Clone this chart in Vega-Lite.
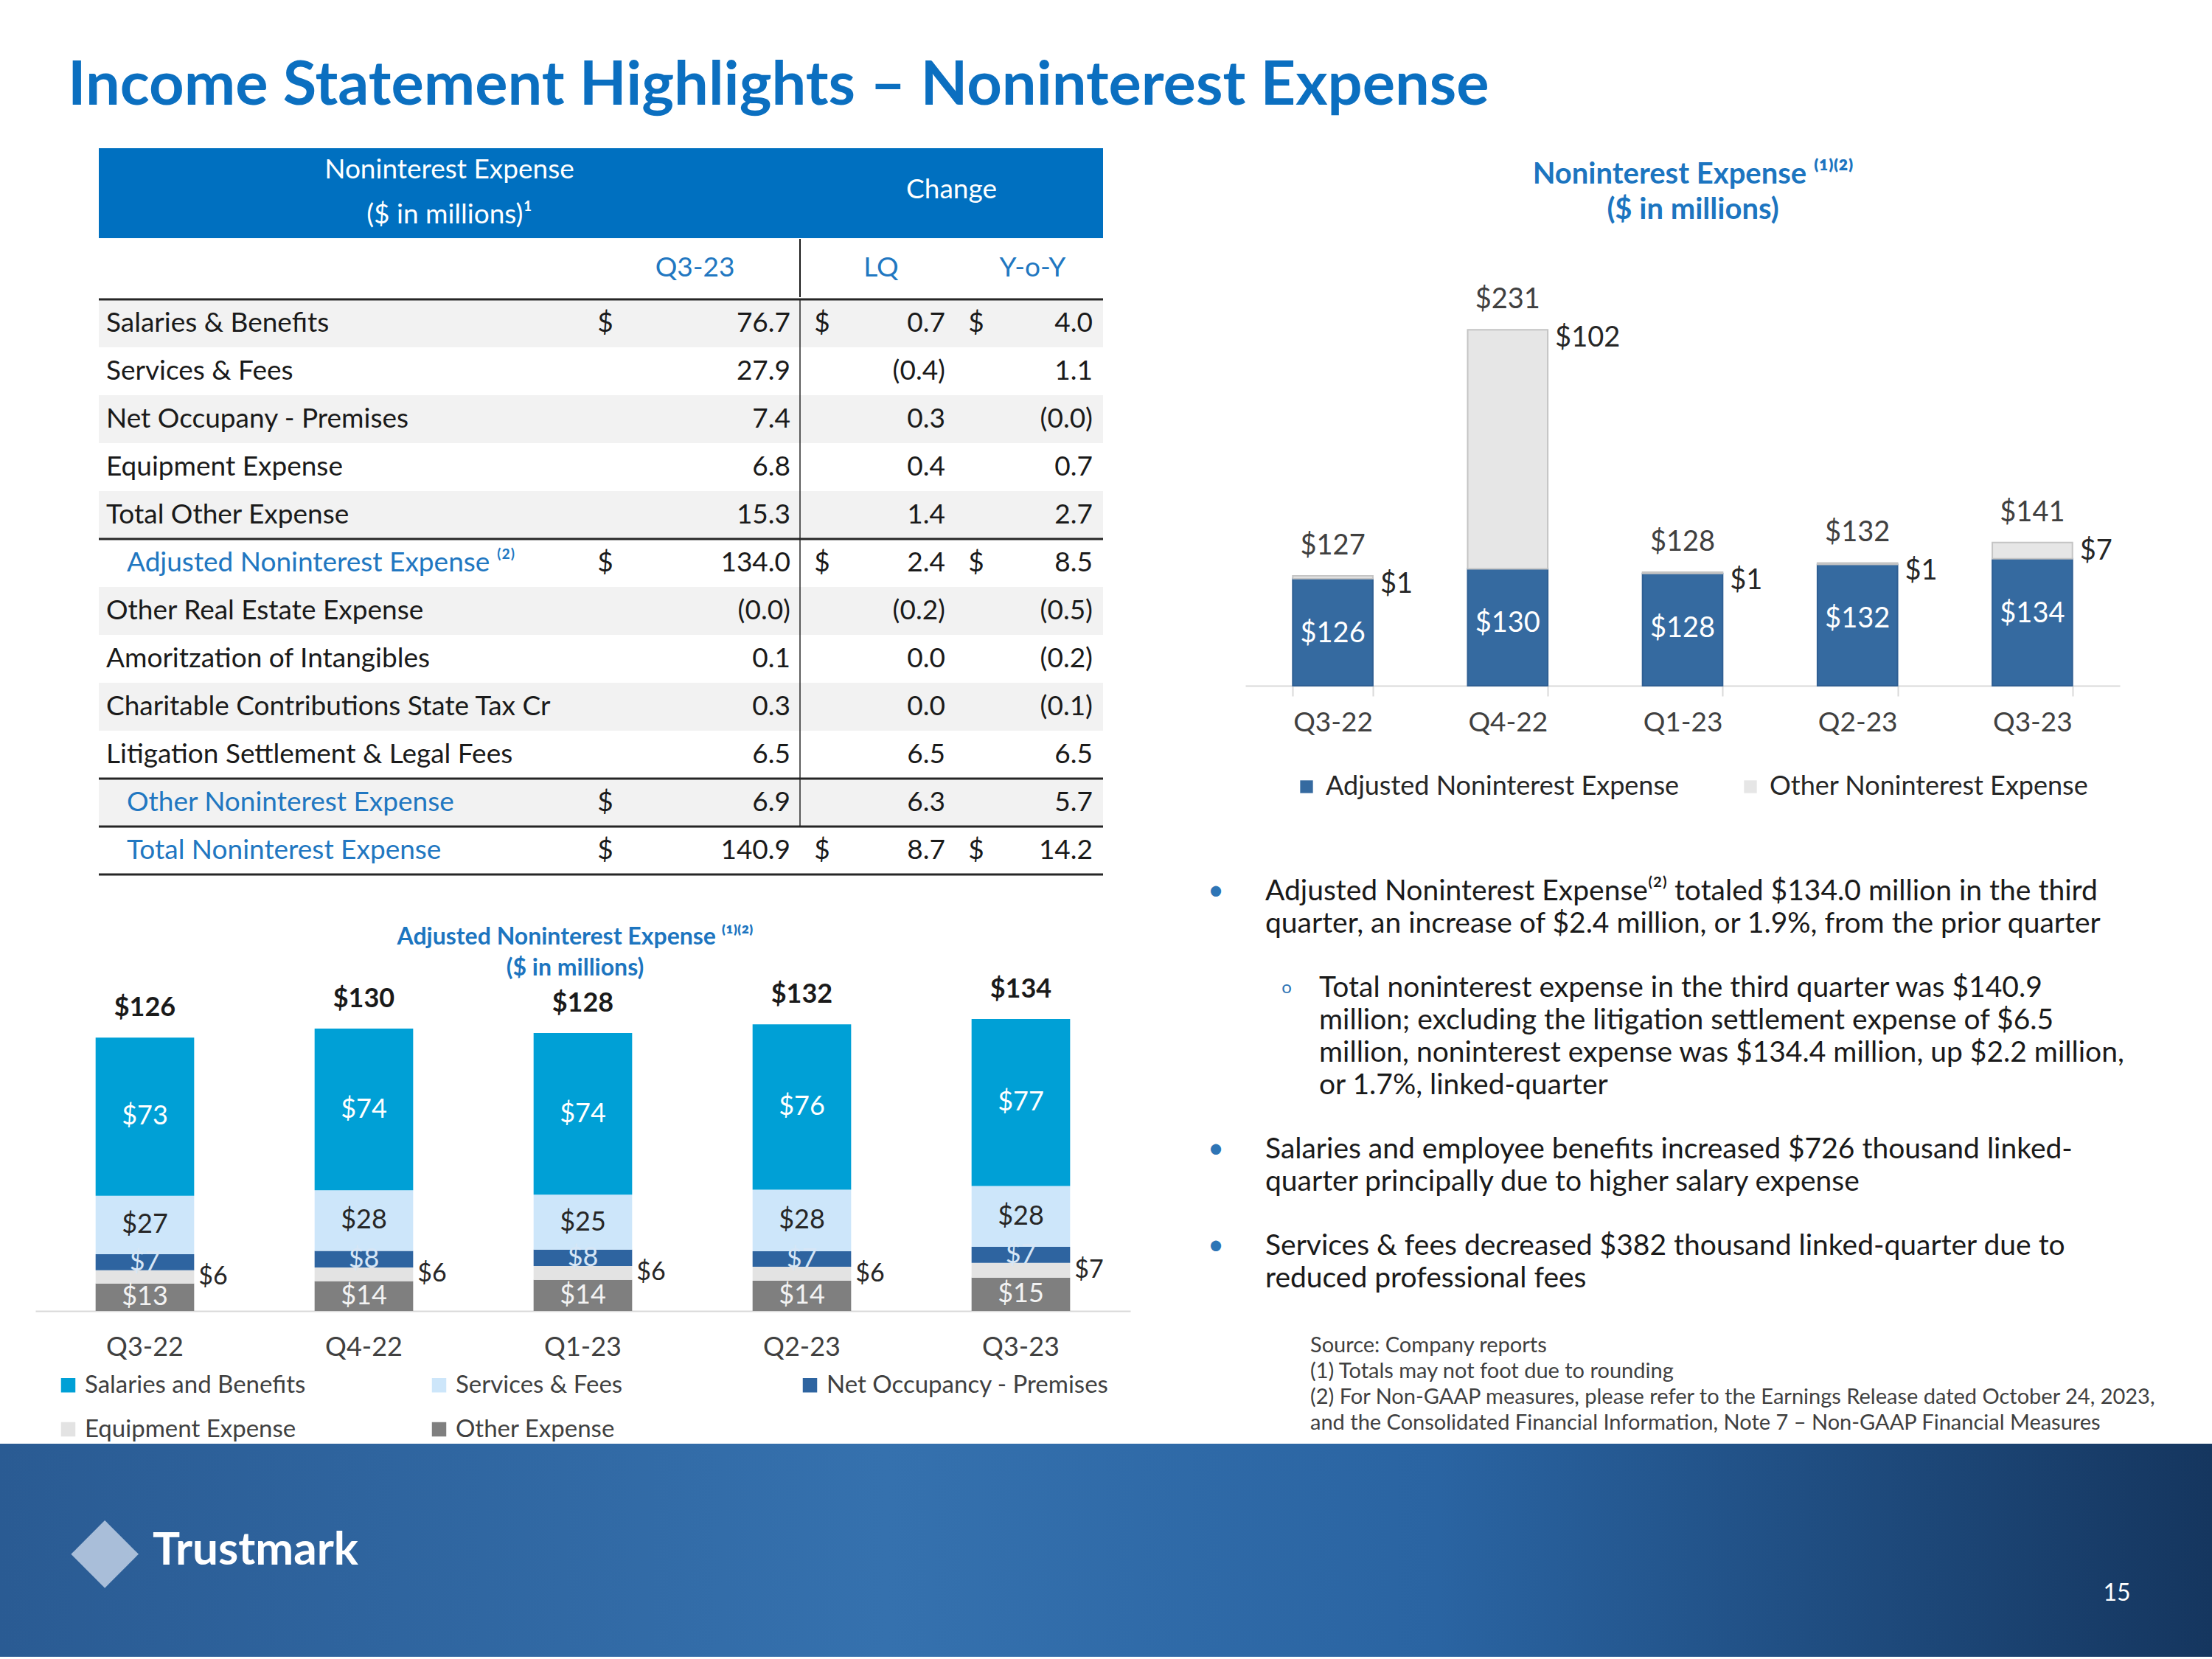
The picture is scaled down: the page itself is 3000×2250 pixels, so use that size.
{
"$schema":"https://vega.github.io/schema/vega-lite/v6.json",
"background":"#ffffff",
"padding":{"left":0,"right":0,"top":76,"bottom":0},
"title":{"text":"Income Statement Highlights – Noninterest Expense","anchor":"start","dx":92,"offset":42,"fontSize":83,"fontWeight":"bold","color":"#0b6fc0","font":"Lato"},
"config":{"font":"Lato","view":{"stroke":null},"concat":{"spacing":0},"title":{"font":"Lato","subtitleFont":"Lato"}},
"resolve":{"scale":{"color":"independent"},"legend":{"color":"independent"}},
"datasets":{
 "tableHead":[{"part":"left","label":"Noninterest Expense\n($ in millions)¹"},{"part":"right","label":"Change"}],
 "tableCols":[{"col":"cur","label":"Q3-23"},{"col":"lq","label":"LQ"},{"col":"yoy","label":"Y-o-Y"}],
 "table":[
  {"n":1,"item":"Salaries & Benefits","kind":"item","cur":"76.7","lq":"0.7","yoy":"4.0","sym_cur":"$","sym_chg":"$"},
  {"n":2,"item":"Services & Fees","kind":"item","cur":"27.9","lq":"(0.4)","yoy":"1.1"},
  {"n":3,"item":"Net Occupany - Premises","kind":"item","cur":"7.4","lq":"0.3","yoy":"(0.0)"},
  {"n":4,"item":"Equipment Expense","kind":"item","cur":"6.8","lq":"0.4","yoy":"0.7"},
  {"n":5,"item":"Total Other Expense","kind":"item","cur":"15.3","lq":"1.4","yoy":"2.7"},
  {"n":6,"item":"Adjusted Noninterest Expense ⁽²⁾","kind":"subtotal","cur":"134.0","lq":"2.4","yoy":"8.5","sym_cur":"$","sym_chg":"$"},
  {"n":7,"item":"Other Real Estate Expense","kind":"item","cur":"(0.0)","lq":"(0.2)","yoy":"(0.5)"},
  {"n":8,"item":"Amoritzation of Intangibles","kind":"item","cur":"0.1","lq":"0.0","yoy":"(0.2)"},
  {"n":9,"item":"Charitable Contributions State Tax Cr","kind":"item","cur":"0.3","lq":"0.0","yoy":"(0.1)"},
  {"n":10,"item":"Litigation Settlement & Legal Fees","kind":"item","cur":"6.5","lq":"6.5","yoy":"6.5"},
  {"n":11,"item":"Other Noninterest Expense","kind":"subtotal","cur":"6.9","lq":"6.3","yoy":"5.7","sym_cur":"$"},
  {"n":12,"item":"Total Noninterest Expense","kind":"total","cur":"140.9","lq":"8.7","yoy":"14.2","sym_cur":"$","sym_chg":"$"}
 ],
 "adjParts":[
  {"q":"Q3-22","cat":"Other Expense","k":1,"v":12.6},
  {"q":"Q3-22","cat":"Equipment Expense","k":2,"v":6.1},
  {"q":"Q3-22","cat":"Net Occupancy - Premises","k":3,"v":7.4},
  {"q":"Q3-22","cat":"Services & Fees","k":4,"v":26.8},
  {"q":"Q3-22","cat":"Salaries and Benefits","k":5,"v":72.7},
  {"q":"Q4-22","cat":"Other Expense","k":1,"v":13.7},
  {"q":"Q4-22","cat":"Equipment Expense","k":2,"v":6.3},
  {"q":"Q4-22","cat":"Net Occupancy - Premises","k":3,"v":7.6},
  {"q":"Q4-22","cat":"Services & Fees","k":4,"v":27.9},
  {"q":"Q4-22","cat":"Salaries and Benefits","k":5,"v":74.2},
  {"q":"Q1-23","cat":"Other Expense","k":1,"v":14.3},
  {"q":"Q1-23","cat":"Equipment Expense","k":2,"v":6.4},
  {"q":"Q1-23","cat":"Net Occupancy - Premises","k":3,"v":7.5},
  {"q":"Q1-23","cat":"Services & Fees","k":4,"v":25.2},
  {"q":"Q1-23","cat":"Salaries and Benefits","k":5,"v":74.3},
  {"q":"Q2-23","cat":"Other Expense","k":1,"v":13.9},
  {"q":"Q2-23","cat":"Equipment Expense","k":2,"v":6.4},
  {"q":"Q2-23","cat":"Net Occupancy - Premises","k":3,"v":7.1},
  {"q":"Q2-23","cat":"Services & Fees","k":4,"v":28.3},
  {"q":"Q2-23","cat":"Salaries and Benefits","k":5,"v":76.0},
  {"q":"Q3-23","cat":"Other Expense","k":1,"v":15.3},
  {"q":"Q3-23","cat":"Equipment Expense","k":2,"v":6.8},
  {"q":"Q3-23","cat":"Net Occupancy - Premises","k":3,"v":7.4},
  {"q":"Q3-23","cat":"Services & Fees","k":4,"v":27.9},
  {"q":"Q3-23","cat":"Salaries and Benefits","k":5,"v":76.7}
 ],
 "totExp":[
  {"q":"Q3-22","cat":"Adjusted Noninterest Expense","k":1,"v":125.5},
  {"q":"Q3-22","cat":"Other Noninterest Expense","k":2,"v":1.2},
  {"q":"Q4-22","cat":"Adjusted Noninterest Expense","k":1,"v":129.7},
  {"q":"Q4-22","cat":"Other Noninterest Expense","k":2,"v":101.6},
  {"q":"Q1-23","cat":"Adjusted Noninterest Expense","k":1,"v":127.7},
  {"q":"Q1-23","cat":"Other Noninterest Expense","k":2,"v":0.6},
  {"q":"Q2-23","cat":"Adjusted Noninterest Expense","k":1,"v":131.6},
  {"q":"Q2-23","cat":"Other Noninterest Expense","k":2,"v":0.6},
  {"q":"Q3-23","cat":"Adjusted Noninterest Expense","k":1,"v":134.0},
  {"q":"Q3-23","cat":"Other Noninterest Expense","k":2,"v":6.9}
 ],
 "notes":[
  {"slot":"a1","level":0,"glyph":"•","line":"Adjusted Noninterest Expense⁽²⁾ totaled $134.0 million in the third"},
  {"slot":"a2","level":0,"glyph":"","line":"quarter, an increase of $2.4 million, or 1.9%, from the prior quarter"},
  {"slot":"b1","level":1,"glyph":"o","line":"Total noninterest expense in the third quarter was $140.9"},
  {"slot":"b2","level":1,"glyph":"","line":"million; excluding the litigation settlement expense of $6.5"},
  {"slot":"b3","level":1,"glyph":"","line":"million, noninterest expense was $134.4 million, up $2.2 million,"},
  {"slot":"b4","level":1,"glyph":"","line":"or 1.7%, linked-quarter"},
  {"slot":"c1","level":0,"glyph":"•","line":"Salaries and employee benefits increased $726 thousand  linked-"},
  {"slot":"c2","level":0,"glyph":"","line":"quarter principally due to higher salary expense"},
  {"slot":"d1","level":0,"glyph":"•","line":"Services & fees decreased $382 thousand linked-quarter due to"},
  {"slot":"d2","level":0,"glyph":"","line":"reduced professional fees"}
 ],
 "footnotes":[
  {"i":1,"line":"Source: Company reports"},
  {"i":2,"line":"(1) Totals may not foot due to rounding"},
  {"i":3,"line":"(2) For Non-GAAP measures, please refer to the Earnings Release dated October 24, 2023,"},
  {"i":4,"line":"and the Consolidated Financial Information, Note 7 – Non-GAAP Financial Measures"}
 ],
 "footer":[{"logo":"◆","brand":"Trustmark","page":"15"}]
},
"vconcat":[
 {"hconcat":[
  {"vconcat":[
   {"vconcat":[
    {"hconcat":[
     {"width":134,"height":30,"data":{"values":[{"t":""}]},"mark":{"type":"text","fontSize":1},"encoding":{"text":{"field":"t"}}},
     {"width":951,"height":122,"view":{"fill":"#0070c0","stroke":null},"data":{"name":"tableHead"},"transform":[{"filter":"datum.part == 'left'"}],"mark":{"type":"text","color":"#ffffff","fontSize":37,"lineBreak":"\n","lineHeight":61,"align":"center","baseline":"middle","dy":-31},"encoding":{"text":{"field":"label"}}},
     {"width":411,"height":122,"view":{"fill":"#0070c0","stroke":null},"data":{"name":"tableHead"},"transform":[{"filter":"datum.part == 'right'"}],"mark":{"type":"text","color":"#ffffff","fontSize":37,"align":"center","baseline":"middle","dy":-4},"encoding":{"text":{"field":"label"}}}
    ],"spacing":0,"bounds":"flush"},
    {"hconcat":[
     {"width":800,"height":30,"data":{"values":[{"t":""}]},"mark":{"type":"text","fontSize":1},"encoding":{"text":{"field":"t"}}},
     {"width":285,"height":79,"data":{"name":"tableCols"},"transform":[{"filter":"datum.col == 'cur'"}],"mark":{"type":"text","fontSize":37,"color":"#2177c1","align":"center","baseline":"middle"},"encoding":{"text":{"field":"label"}}},
     {"width":220,"height":79,"data":{"name":"tableCols"},"layer":[
      {"transform":[{"filter":"datum.col == 'lq'"}],"mark":{"type":"text","fontSize":37,"color":"#2177c1","align":"center","baseline":"middle"},"encoding":{"text":{"field":"label"}}},
      {"transform":[{"filter":"datum.col == 'lq'"}],"mark":{"type":"rule","color":"#1a1a1a","strokeWidth":2},"encoding":{"x":{"datum":0,"type":"quantitative","scale":{"domain":[0,1]},"axis":null}}}
     ]},
     {"width":191,"height":79,"data":{"name":"tableCols"},"transform":[{"filter":"datum.col == 'yoy'"}],"mark":{"type":"text","fontSize":37,"color":"#2177c1","align":"center","baseline":"middle"},"encoding":{"text":{"field":"label"}}}
    ],"spacing":0,"bounds":"flush"},
    {"hconcat":[
     {"width":134,"height":30,"data":{"values":[{"t":""}]},"mark":{"type":"text","fontSize":1},"encoding":{"text":{"field":"t"}}},
     {"width":666,"height":780,"data":{"name":"table"},"layer":[
      {"transform":[{"filter":"datum.n % 2 == 1"}],"mark":{"type":"rect","color":"#f2f2f2"},"encoding":{"x":{"datum":0,"type":"quantitative","scale":{"domain":[0,1]},"axis":null},"x2":{"datum":1},"y":{"field":"n","type":"ordinal","scale":{"type":"band","domain":[1,2,3,4,5,6,7,8,9,10,11,12],"paddingInner":0,"paddingOuter":0},"axis":null}}},
      {"transform":[{"filter":"datum.kind == 'item'"}],"mark":{"type":"text","align":"left","baseline":"middle","dx":10,"fontSize":37,"color":"#1a1a1a"},"encoding":{"x":{"datum":0,"type":"quantitative","scale":{"domain":[0,1]},"axis":null},"y":{"field":"n","type":"ordinal","scale":{"type":"band","domain":[1,2,3,4,5,6,7,8,9,10,11,12],"paddingInner":0,"paddingOuter":0},"axis":null},"text":{"field":"item"}}},
      {"transform":[{"filter":"datum.kind != 'item'"}],"mark":{"type":"text","align":"left","baseline":"middle","dx":38,"fontSize":37,"color":"#2177c1"},"encoding":{"x":{"datum":0,"type":"quantitative","scale":{"domain":[0,1]},"axis":null},"y":{"field":"n","type":"ordinal","scale":{"type":"band","domain":[1,2,3,4,5,6,7,8,9,10,11,12],"paddingInner":0,"paddingOuter":0},"axis":null},"text":{"field":"item"}}},
      {"transform":[{"filter":"datum.n == 1 || datum.kind != 'item'"}],"mark":{"type":"rule","color":"#262626","strokeWidth":3},"encoding":{"x":{"datum":0,"type":"quantitative","scale":{"domain":[0,1]},"axis":null},"x2":{"datum":1},"y":{"field":"n","type":"ordinal","bandPosition":0,"scale":{"type":"band","domain":[1,2,3,4,5,6,7,8,9,10,11,12],"paddingInner":0,"paddingOuter":0},"axis":null}}},
      {"transform":[{"filter":"datum.kind == 'total'"}],"mark":{"type":"rule","color":"#262626","strokeWidth":3},"encoding":{"x":{"datum":0,"type":"quantitative","scale":{"domain":[0,1]},"axis":null},"x2":{"datum":1},"y":{"field":"n","type":"ordinal","bandPosition":1,"scale":{"type":"band","domain":[1,2,3,4,5,6,7,8,9,10,11,12],"paddingInner":0,"paddingOuter":0},"axis":null}}}
     ]},
     {"width":285,"height":780,"data":{"name":"table"},"layer":[
      {"transform":[{"filter":"datum.n % 2 == 1"}],"mark":{"type":"rect","color":"#f2f2f2"},"encoding":{"x":{"datum":0,"type":"quantitative","scale":{"domain":[0,1]},"axis":null},"x2":{"datum":1},"y":{"field":"n","type":"ordinal","scale":{"type":"band","domain":[1,2,3,4,5,6,7,8,9,10,11,12],"paddingInner":0,"paddingOuter":0},"axis":null}}},
      {"transform":[{"filter":"datum.sym_cur == '$'"}],"mark":{"type":"text","align":"center","baseline":"middle","dx":21,"fontSize":37,"color":"#1a1a1a"},"encoding":{"x":{"datum":0,"type":"quantitative","scale":{"domain":[0,1]},"axis":null},"y":{"field":"n","type":"ordinal","scale":{"type":"band","domain":[1,2,3,4,5,6,7,8,9,10,11,12],"paddingInner":0,"paddingOuter":0},"axis":null},"text":{"field":"sym_cur"}}},
      {"mark":{"type":"text","align":"right","baseline":"middle","dx":-13,"fontSize":37,"color":"#1a1a1a"},"encoding":{"x":{"datum":1,"type":"quantitative","scale":{"domain":[0,1]},"axis":null},"y":{"field":"n","type":"ordinal","scale":{"type":"band","domain":[1,2,3,4,5,6,7,8,9,10,11,12],"paddingInner":0,"paddingOuter":0},"axis":null},"text":{"field":"cur"}}},
      {"transform":[{"filter":"datum.n == 1 || datum.kind != 'item'"}],"mark":{"type":"rule","color":"#262626","strokeWidth":3},"encoding":{"x":{"datum":0,"type":"quantitative","scale":{"domain":[0,1]},"axis":null},"x2":{"datum":1},"y":{"field":"n","type":"ordinal","bandPosition":0,"scale":{"type":"band","domain":[1,2,3,4,5,6,7,8,9,10,11,12],"paddingInner":0,"paddingOuter":0},"axis":null}}},
      {"transform":[{"filter":"datum.kind == 'total'"}],"mark":{"type":"rule","color":"#262626","strokeWidth":3},"encoding":{"x":{"datum":0,"type":"quantitative","scale":{"domain":[0,1]},"axis":null},"x2":{"datum":1},"y":{"field":"n","type":"ordinal","bandPosition":1,"scale":{"type":"band","domain":[1,2,3,4,5,6,7,8,9,10,11,12],"paddingInner":0,"paddingOuter":0},"axis":null}}}
     ]},
     {"width":220,"height":780,"data":{"name":"table"},"layer":[
      {"transform":[{"filter":"datum.n % 2 == 1"}],"mark":{"type":"rect","color":"#f2f2f2"},"encoding":{"x":{"datum":0,"type":"quantitative","scale":{"domain":[0,1]},"axis":null},"x2":{"datum":1},"y":{"field":"n","type":"ordinal","scale":{"type":"band","domain":[1,2,3,4,5,6,7,8,9,10,11,12],"paddingInner":0,"paddingOuter":0},"axis":null}}},
      {"transform":[{"filter":"datum.kind != 'total'"}],"mark":{"type":"tick","orient":"vertical","size":65,"thickness":2,"color":"#1a1a1a"},"encoding":{"x":{"datum":0,"type":"quantitative","scale":{"domain":[0,1]},"axis":null},"y":{"field":"n","type":"ordinal","scale":{"type":"band","domain":[1,2,3,4,5,6,7,8,9,10,11,12],"paddingInner":0,"paddingOuter":0},"axis":null}}},
      {"transform":[{"filter":"datum.sym_chg == '$'"}],"mark":{"type":"text","align":"center","baseline":"middle","dx":30,"fontSize":37,"color":"#1a1a1a"},"encoding":{"x":{"datum":0,"type":"quantitative","scale":{"domain":[0,1]},"axis":null},"y":{"field":"n","type":"ordinal","scale":{"type":"band","domain":[1,2,3,4,5,6,7,8,9,10,11,12],"paddingInner":0,"paddingOuter":0},"axis":null},"text":{"field":"sym_chg"}}},
      {"mark":{"type":"text","align":"right","baseline":"middle","dx":-23,"fontSize":37,"color":"#1a1a1a"},"encoding":{"x":{"datum":1,"type":"quantitative","scale":{"domain":[0,1]},"axis":null},"y":{"field":"n","type":"ordinal","scale":{"type":"band","domain":[1,2,3,4,5,6,7,8,9,10,11,12],"paddingInner":0,"paddingOuter":0},"axis":null},"text":{"field":"lq"}}},
      {"transform":[{"filter":"datum.n == 1 || datum.kind != 'item'"}],"mark":{"type":"rule","color":"#262626","strokeWidth":3},"encoding":{"x":{"datum":0,"type":"quantitative","scale":{"domain":[0,1]},"axis":null},"x2":{"datum":1},"y":{"field":"n","type":"ordinal","bandPosition":0,"scale":{"type":"band","domain":[1,2,3,4,5,6,7,8,9,10,11,12],"paddingInner":0,"paddingOuter":0},"axis":null}}},
      {"transform":[{"filter":"datum.kind == 'total'"}],"mark":{"type":"rule","color":"#262626","strokeWidth":3},"encoding":{"x":{"datum":0,"type":"quantitative","scale":{"domain":[0,1]},"axis":null},"x2":{"datum":1},"y":{"field":"n","type":"ordinal","bandPosition":1,"scale":{"type":"band","domain":[1,2,3,4,5,6,7,8,9,10,11,12],"paddingInner":0,"paddingOuter":0},"axis":null}}}
     ]},
     {"width":191,"height":780,"data":{"name":"table"},"layer":[
      {"transform":[{"filter":"datum.n % 2 == 1"}],"mark":{"type":"rect","color":"#f2f2f2"},"encoding":{"x":{"datum":0,"type":"quantitative","scale":{"domain":[0,1]},"axis":null},"x2":{"datum":1},"y":{"field":"n","type":"ordinal","scale":{"type":"band","domain":[1,2,3,4,5,6,7,8,9,10,11,12],"paddingInner":0,"paddingOuter":0},"axis":null}}},
      {"transform":[{"filter":"datum.sym_chg == '$'"}],"mark":{"type":"text","align":"center","baseline":"middle","dx":19,"fontSize":37,"color":"#1a1a1a"},"encoding":{"x":{"datum":0,"type":"quantitative","scale":{"domain":[0,1]},"axis":null},"y":{"field":"n","type":"ordinal","scale":{"type":"band","domain":[1,2,3,4,5,6,7,8,9,10,11,12],"paddingInner":0,"paddingOuter":0},"axis":null},"text":{"field":"sym_chg"}}},
      {"mark":{"type":"text","align":"right","baseline":"middle","dx":-14,"fontSize":37,"color":"#1a1a1a"},"encoding":{"x":{"datum":1,"type":"quantitative","scale":{"domain":[0,1]},"axis":null},"y":{"field":"n","type":"ordinal","scale":{"type":"band","domain":[1,2,3,4,5,6,7,8,9,10,11,12],"paddingInner":0,"paddingOuter":0},"axis":null},"text":{"field":"yoy"}}},
      {"transform":[{"filter":"datum.n == 1 || datum.kind != 'item'"}],"mark":{"type":"rule","color":"#262626","strokeWidth":3},"encoding":{"x":{"datum":0,"type":"quantitative","scale":{"domain":[0,1]},"axis":null},"x2":{"datum":1},"y":{"field":"n","type":"ordinal","bandPosition":0,"scale":{"type":"band","domain":[1,2,3,4,5,6,7,8,9,10,11,12],"paddingInner":0,"paddingOuter":0},"axis":null}}},
      {"transform":[{"filter":"datum.kind == 'total'"}],"mark":{"type":"rule","color":"#262626","strokeWidth":3},"encoding":{"x":{"datum":0,"type":"quantitative","scale":{"domain":[0,1]},"axis":null},"x2":{"datum":1},"y":{"field":"n","type":"ordinal","bandPosition":1,"scale":{"type":"band","domain":[1,2,3,4,5,6,7,8,9,10,11,12],"paddingInner":0,"paddingOuter":0},"axis":null}}}
     ]}
    ],"spacing":0,"bounds":"flush"}
   ],"spacing":0},
   {"width":1628,"height":473,"data":{"name":"adjParts"},
    "title":{"text":"Adjusted Noninterest Expense ⁽¹⁾⁽²⁾","subtitle":"($ in millions)","anchor":"middle","frame":"group","offset":-25,"dx":-34,"fontSize":32,"subtitleFontSize":32,"fontWeight":"bold","subtitleFontWeight":"bold","color":"#1c75c0","subtitleColor":"#1c75c0","subtitlePadding":10},
    "layer":[
     {"transform":[{"stack":"v","groupby":["q"],"sort":[{"field":"k","order":"ascending"}],"as":["v0","v1"]}],
      "mark":{"type":"bar"},
      "encoding":{
       "x":{"field":"q","type":"nominal","sort":["Q3-22","Q4-22","Q1-23","Q2-23","Q3-23"],"scale":{"range":[48,1533],"paddingInner":0.55,"paddingOuter":0.275},"axis":{"title":null,"labelAngle":0,"labelFontSize":36,"labelColor":"#404040","labelPadding":32,"ticks":false,"domainColor":"#d9d9d9","domainWidth":2}},
       "y":{"field":"v1","type":"quantitative","scale":{"domain":[0,160.2],"nice":false},"axis":null},
       "y2":{"field":"v0"},
       "color":{"field":"cat","type":"nominal","scale":{"domain":["Salaries and Benefits","Services & Fees","Net Occupancy - Premises","Equipment Expense","Other Expense"],"range":["#00a0d6","#cde6fa","#2e64a0","#e3e3e3","#7f7f7f"]},
        "legend":{"orient":"none","legendX":76,"legendY":557,"columns":3,"direction":"horizontal","title":null,"symbolType":"square","symbolSize":380,"symbolStrokeWidth":0,"labelFontSize":33,"labelColor":"#404040","columnPadding":81,"rowPadding":26,"gridAlign":"all","labelOffset":6,"labelLimit":700}}
      }},
     {"transform":[{"stack":"v","groupby":["q"],"sort":[{"field":"k","order":"ascending"}],"as":["v0","v1"]},{"fold":["v0","v1"],"as":["edge","pos"]},{"aggregate":[{"op":"mean","field":"pos","as":"mid"}],"groupby":["q","cat","v"]},{"filter":"datum.cat != 'Equipment Expense'"}],
      "mark":{"type":"text","fontSize":36,"baseline":"middle","align":"center"},
      "encoding":{
       "x":{"field":"q","type":"nominal","sort":["Q3-22","Q4-22","Q1-23","Q2-23","Q3-23"],"scale":{"range":[48,1533],"paddingInner":0.55,"paddingOuter":0.275},"axis":{"title":null,"labelAngle":0,"labelFontSize":36,"labelColor":"#404040","labelPadding":32,"ticks":false,"domainColor":"#d9d9d9","domainWidth":2}},
       "y":{"field":"mid","type":"quantitative"},
       "text":{"field":"v","type":"quantitative","format":"$.0f"},
       "color":{"condition":[{"test":"datum.cat == 'Services & Fees'","value":"#262626"},{"test":"datum.cat == 'Net Occupancy - Premises'","value":"#d6e6f6"},{"test":"datum.cat == 'Other Expense'","value":"#f2f2f2"}],"value":"#ffffff"}
      }},
     {"transform":[{"stack":"v","groupby":["q"],"sort":[{"field":"k","order":"ascending"}],"as":["v0","v1"]},{"fold":["v0","v1"],"as":["edge","pos"]},{"aggregate":[{"op":"mean","field":"pos","as":"mid"}],"groupby":["q","cat","v"]},{"filter":"datum.cat == 'Equipment Expense'"}],
      "mark":{"type":"text","fontSize":34,"baseline":"middle","align":"left","dx":6,"color":"#262626"},
      "encoding":{
       "x":{"field":"q","type":"nominal","bandPosition":1,"sort":["Q3-22","Q4-22","Q1-23","Q2-23","Q3-23"],"scale":{"range":[48,1533],"paddingInner":0.55,"paddingOuter":0.275},"axis":{"title":null,"labelAngle":0,"labelFontSize":36,"labelColor":"#404040","labelPadding":32,"ticks":false,"domainColor":"#d9d9d9","domainWidth":2}},
       "y":{"field":"mid","type":"quantitative"},
       "text":{"field":"v","type":"quantitative","format":"$.0f"}
      }},
     {"transform":[{"aggregate":[{"op":"sum","field":"v","as":"total"}],"groupby":["q"]}],
      "mark":{"type":"text","fontSize":36,"fontWeight":"bold","baseline":"middle","align":"center","dy":-40,"color":"#1a1a1a"},
      "encoding":{
       "x":{"field":"q","type":"nominal","sort":["Q3-22","Q4-22","Q1-23","Q2-23","Q3-23"],"scale":{"range":[48,1533],"paddingInner":0.55,"paddingOuter":0.275},"axis":{"title":null,"labelAngle":0,"labelFontSize":36,"labelColor":"#404040","labelPadding":32,"ticks":false,"domainColor":"#d9d9d9","domainWidth":2}},
       "y":{"field":"total","type":"quantitative"},
       "text":{"field":"total","type":"quantitative","format":"$.0f"}
      }}
    ]}
  ],"spacing":67,"resolve":{"scale":{"color":"independent"},"legend":{"color":"independent"}}},
  {"vconcat":[
   {"width":1294,"height":729,"data":{"name":"totExp"},
    "title":{"text":"Noninterest Expense ⁽¹⁾⁽²⁾","subtitle":"($ in millions)","anchor":"middle","frame":"group","offset":-104,"fontSize":40,"subtitleFontSize":40,"fontWeight":"bold","subtitleFontWeight":"bold","color":"#1c75c0","subtitleColor":"#1c75c0","subtitlePadding":8},
    "layer":[
     {"transform":[{"stack":"v","groupby":["q"],"sort":[{"field":"k","order":"ascending"}],"as":["v0","v1"]}],
      "mark":{"type":"bar","strokeWidth":2},
      "encoding":{
       "x":{"field":"q","type":"nominal","sort":["Q3-22","Q4-22","Q1-23","Q2-23","Q3-23"],"scale":{"range":[40,1226],"paddingInner":0.542,"paddingOuter":0.271},"axis":{"title":null,"labelAngle":0,"labelFontSize":37,"labelColor":"#404040","labelPadding":18,"ticks":true,"tickBand":"extent","tickColor":"#d9d9d9","tickSize":14,"tickWidth":2,"domainColor":"#d9d9d9","domainWidth":2}},
       "y":{"field":"v1","type":"quantitative","scale":{"domain":[80,308.5],"zero":false,"nice":false,"clamp":true},"axis":null},
       "y2":{"field":"v0"},
       "color":{"field":"cat","type":"nominal","scale":{"domain":["Adjusted Noninterest Expense","Other Noninterest Expense"],"range":["#356aa0","#e6e6e6"]},
        "legend":{"orient":"none","legendX":105,"legendY":848,"direction":"horizontal","title":null,"symbolType":"square","symbolSize":300,"symbolStrokeWidth":0,"labelFontSize":36,"labelColor":"#262626","columnPadding":78,"labelOffset":8,"labelLimit":700}},
       "stroke":{"condition":{"test":"datum.cat == 'Other Noninterest Expense'","value":"#c4c4c4"},"value":"#2f5f93"}
      }},
     {"transform":[{"filter":"datum.cat == 'Adjusted Noninterest Expense'"}],
      "mark":{"type":"text","fontSize":38,"baseline":"middle","align":"center","dy":75,"color":"#ffffff"},
      "encoding":{
       "x":{"field":"q","type":"nominal","sort":["Q3-22","Q4-22","Q1-23","Q2-23","Q3-23"],"scale":{"range":[40,1226],"paddingInner":0.542,"paddingOuter":0.271},"axis":{"title":null,"labelAngle":0,"labelFontSize":37,"labelColor":"#404040","labelPadding":18,"ticks":true,"tickBand":"extent","tickColor":"#d9d9d9","tickSize":14,"tickWidth":2,"domainColor":"#d9d9d9","domainWidth":2}},
       "y":{"field":"v","type":"quantitative"},
       "text":{"field":"v","type":"quantitative","format":"$.0f"}
      }},
     {"transform":[{"stack":"v","groupby":["q"],"sort":[{"field":"k","order":"ascending"}],"as":["v0","v1"]},{"filter":"datum.cat == 'Other Noninterest Expense'"}],
      "mark":{"type":"text","fontSize":38,"baseline":"middle","align":"left","dx":10,"dy":12,"color":"#262626"},
      "encoding":{
       "x":{"field":"q","type":"nominal","bandPosition":1,"sort":["Q3-22","Q4-22","Q1-23","Q2-23","Q3-23"],"scale":{"range":[40,1226],"paddingInner":0.542,"paddingOuter":0.271},"axis":{"title":null,"labelAngle":0,"labelFontSize":37,"labelColor":"#404040","labelPadding":18,"ticks":true,"tickBand":"extent","tickColor":"#d9d9d9","tickSize":14,"tickWidth":2,"domainColor":"#d9d9d9","domainWidth":2}},
       "y":{"field":"v1","type":"quantitative"},
       "text":{"field":"v","type":"quantitative","format":"$.0f"}
      }},
     {"transform":[{"aggregate":[{"op":"sum","field":"v","as":"total"}],"groupby":["q"]}],
      "mark":{"type":"text","fontSize":38,"baseline":"middle","align":"center","dy":-40,"color":"#404040"},
      "encoding":{
       "x":{"field":"q","type":"nominal","sort":["Q3-22","Q4-22","Q1-23","Q2-23","Q3-23"],"scale":{"range":[40,1226],"paddingInner":0.542,"paddingOuter":0.271},"axis":{"title":null,"labelAngle":0,"labelFontSize":37,"labelColor":"#404040","labelPadding":18,"ticks":true,"tickBand":"extent","tickColor":"#d9d9d9","tickSize":14,"tickWidth":2,"domainColor":"#d9d9d9","domainWidth":2}},
       "y":{"field":"total","type":"quantitative"},
       "text":{"field":"total","type":"quantitative","format":"$.0f"}
      }}
    ]},
   {"vconcat":[
    {"width":1294,"height":569,"data":{"name":"notes"},
     "resolve":{"scale":{"x":"independent"}},
     "layer":[
      {"transform":[{"filter":"datum.glyph != ''"}],
       "mark":{"type":"text","align":"center","baseline":"middle","color":"#2e75b6"},
       "encoding":{
        "x":{"field":"level","type":"quantitative","scale":{"domain":[0,1],"range":[0,96]},"axis":null},
        "y":{"field":"slot","type":"ordinal","scale":{"type":"point","domain":["a1","a2","g1","b1","b2","b3","b4","g2","c1","c2","g3","d1","d2"],"padding":0.5},"axis":null},
        "text":{"field":"glyph"},
        "size":{"condition":{"test":"datum.level == 0","value":38},"value":24}
       }},
      {"mark":{"type":"text","align":"left","baseline":"middle","fontSize":39,"color":"#1a1a1a"},
       "encoding":{
        "x":{"field":"level","type":"quantitative","scale":{"domain":[0,1],"range":[67,140]},"axis":null},
        "y":{"field":"slot","type":"ordinal","scale":{"type":"point","domain":["a1","a2","g1","b1","b2","b3","b4","g2","c1","c2","g3","d1","d2"],"padding":0.5},"axis":null},
        "text":{"field":"line"}
       }}
     ]},
    {"width":1294,"height":140,"data":{"name":"footnotes"},
     "mark":{"type":"text","align":"left","baseline":"middle","dx":128,"fontSize":29,"color":"#404040"},
     "encoding":{
      "x":{"datum":0,"type":"quantitative","scale":{"domain":[0,1]},"axis":null},
      "y":{"field":"i","type":"ordinal","scale":{"type":"point","padding":0.5},"axis":null},
      "text":{"field":"line"}
     }}
   ],"spacing":51}
  ],"spacing":102,"resolve":{"scale":{"color":"independent"},"legend":{"color":"independent"}}}
 ],"spacing":9,"resolve":{"scale":{"color":"independent"},"legend":{"color":"independent"}}},
 {"width":3000,"height":289,"data":{"name":"footer"},
  "layer":[
   {"mark":{"type":"rect","fill":{"gradient":"linear","x1":0,"y1":0,"x2":1,"y2":0,"stops":[{"offset":0,"color":"#2a5b93"},{"offset":0.4,"color":"#3571ae"},{"offset":0.65,"color":"#2a64a2"},{"offset":1,"color":"#15365f"}]}},
    "encoding":{"x":{"datum":0,"type":"quantitative","scale":{"domain":[0,1]},"axis":null},"x2":{"datum":1}}},
   {"mark":{"type":"text","align":"center","baseline":"middle","dx":142,"fontSize":120,"color":"#c9d7ea","opacity":0.8},
    "encoding":{"x":{"datum":0,"type":"quantitative","scale":{"domain":[0,1]},"axis":null},"text":{"field":"logo"}}},
   {"mark":{"type":"text","align":"left","baseline":"middle","dx":207,"fontSize":62,"fontWeight":"bold","color":"#ffffff"},
    "encoding":{"x":{"datum":0,"type":"quantitative","scale":{"domain":[0,1]},"axis":null},"text":{"field":"brand"}}},
   {"mark":{"type":"text","align":"center","baseline":"middle","dx":-129,"dy":58,"fontSize":32,"color":"#ffffff"},
    "encoding":{"x":{"datum":1,"type":"quantitative","scale":{"domain":[0,1]},"axis":null},"text":{"field":"page"}}}
  ]}
],
"spacing":2
}
